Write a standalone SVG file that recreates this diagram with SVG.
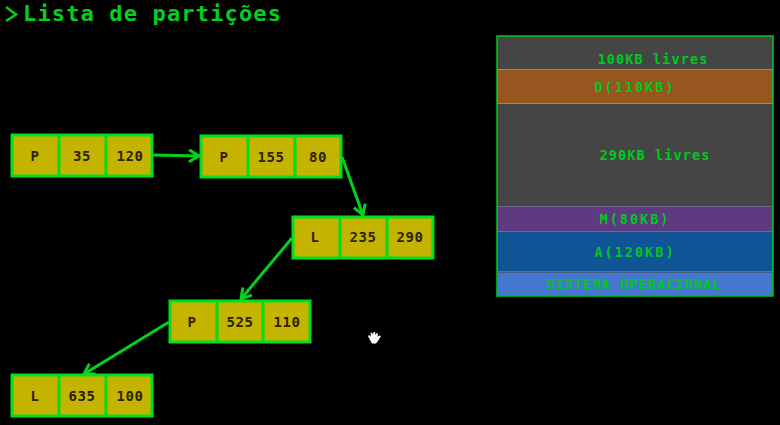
<svg xmlns="http://www.w3.org/2000/svg" width="780" height="425" viewBox="0 0 780 425">
<style>
text{font-family:"DejaVu Sans Mono","Liberation Mono",monospace;text-anchor:middle}
.title{font-size:22px;font-weight:bold;fill:#00d21e;letter-spacing:1.15px;text-anchor:start}
.box{fill:#c4b400;stroke:#00e01e;stroke-width:3}
.div{stroke:#00dc1e;stroke-width:3;fill:none}
.cell{font-size:14px;font-weight:bold;fill:#2a2200;letter-spacing:.6px}
.seg{font-size:13.5px;font-weight:bold;fill:#00c81e;letter-spacing:1.1px}
.wide{letter-spacing:2px}
.conn{stroke:#00d21e;stroke-width:3;fill:none;marker-end:url(#arrow)}
</style>
<defs>
<marker id="arrow" markerUnits="userSpaceOnUse" markerWidth="16" markerHeight="16" refX="12" refY="7" orient="auto">
<path d="M2 1 L12 7 L2 13" fill="none" stroke="#00d21e" stroke-width="3"/>
</marker>
</defs>
<rect width="780" height="425" fill="#000"/>
<g id="title">
<path d="M6 7 L16 14.5 L6 21" fill="none" stroke="#00d21e" stroke-width="2.5"/>
<text class="title" x="23" y="21">Lista de partições</text>
</g>
<g id="connectors">
<path class="conn" d="M153 155 L199 156"/>
<path class="conn" d="M342 157 L363 215"/>
<path class="conn" d="M292 238 L241 299"/>
<path class="conn" d="M169 322 L84 374"/>
</g>
<g id="node1"><rect class="box" x="12" y="135" width="140" height="41"/><path class="div" d="M59 135V176M106 135V176"/><text class="cell" x="35" y="161">P</text><text class="cell" x="82" y="161">35</text><text class="cell" x="130" y="161">120</text></g>
<g id="node2"><rect class="box" x="201" y="136" width="140" height="41"/><path class="div" d="M248 136V177M295 136V177"/><text class="cell" x="224" y="162">P</text><text class="cell" x="271" y="162">155</text><text class="cell" x="318" y="162">80</text></g>
<g id="node3"><rect class="box" x="293" y="217" width="140" height="41"/><path class="div" d="M340 217V258M387 217V258"/><text class="cell" x="315" y="242">L</text><text class="cell" x="363" y="242">235</text><text class="cell" x="410" y="242">290</text></g>
<g id="node4"><rect class="box" x="170" y="301" width="140" height="41"/><path class="div" d="M217 301V342M263 301V342"/><text class="cell" x="192" y="327">P</text><text class="cell" x="240" y="327">525</text><text class="cell" x="287" y="327">110</text></g>
<g id="node5"><rect class="box" x="12" y="375" width="140" height="41"/><path class="div" d="M59 375V416M106 375V416"/><text class="cell" x="35" y="401">L</text><text class="cell" x="82" y="401">635</text><text class="cell" x="130" y="401">100</text></g>
<g id="memory">
<rect x="497" y="36" width="276" height="260" fill="#454545"/>
<rect x="497.5" y="69.5" width="275" height="34" fill="#97561f" stroke="#8a8a8a"/>
<rect x="497.5" y="206.5" width="275" height="25" fill="#5f3a80" stroke="#6a6a8a"/>
<rect x="497.5" y="231.5" width="275" height="40" fill="#0f5596" stroke="#4a7a9a"/>
<rect x="497.5" y="272.5" width="275" height="23" fill="#4478cf"/>
<rect x="497" y="36" width="276" height="260" fill="none" stroke="#00c81e" stroke-width="1.5"/>
<text class="seg" x="653" y="64">100KB livres</text>
<text class="seg wide" x="635" y="92">D(110KB)</text>
<text class="seg" x="655" y="160">290KB livres</text>
<text class="seg wide" x="635" y="224">M(80KB)</text>
<text class="seg wide" x="635" y="257">A(120KB)</text>
<text class="seg" x="634" y="289">SISTEMA OPERACIONAL</text>
</g>
<path id="cursor" d="M368 336 L369.500 335 L371 337 L370.500 333 L372 332.500 L373 335 L373.500 332 L375 332 L375.500 335 L376.500 333 L378 333.500 L377.500 337 L379 335.500 L381 336 L378 341 L376 343.500 L372 343.500 L370 340 Z" fill="#fff"/>
</svg>
